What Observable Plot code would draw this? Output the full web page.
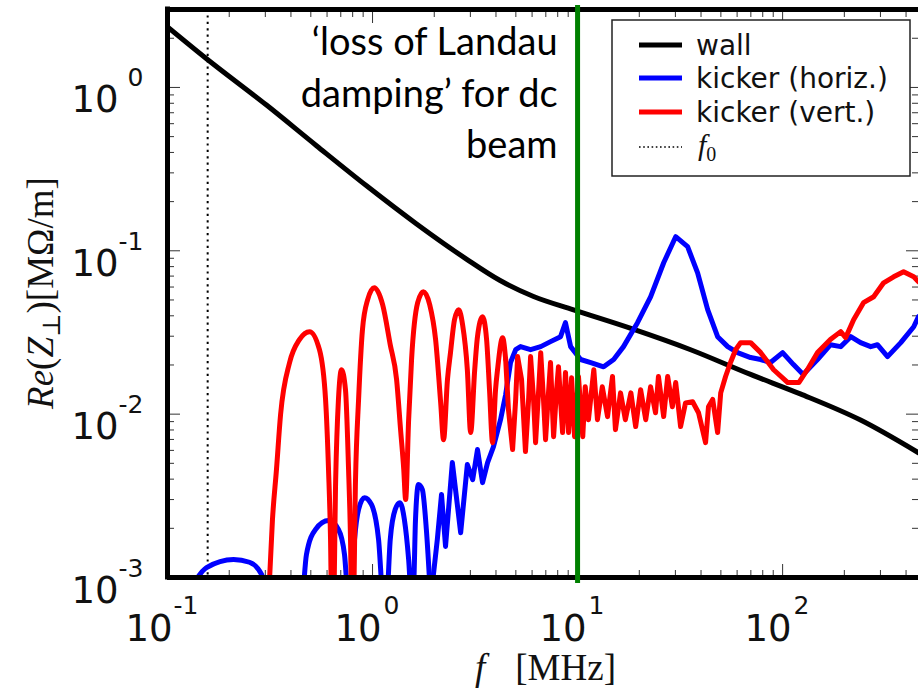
<!DOCTYPE html>
<html>
<head>
<meta charset="utf-8">
<script src="https://cdn.jsdelivr.net/npm/d3@7"></script>
<script src="https://cdn.jsdelivr.net/npm/@observablehq/plot@0.6"></script>
<style>
  html, body { margin: 0; padding: 0; background: #fff; }
  #chart svg { display: block; }
</style>
</head>
<body>
<div id="chart"></div>
<script>
// Transverse impedance Re(Z⊥) in MΩ/m against frequency f in MHz.
// Points below 1e-3 dip off the bottom of the axes and are clipped.

// resistive wall
const wall = [
  [0.1, 2.35], [0.155, 1.5], [0.304, 0.78], [0.533, 0.44], [0.935, 0.25],
  [1.64, 0.146], [2.87, 0.089], [4.17, 0.066], [6.1, 0.0525], [9.56, 0.0435],
  [18.2, 0.0335], [35.6, 0.0248], [69.8, 0.0175], [122, 0.0133], [240, 0.0092],
  [460, 0.0058]
];

// kicker, horizontal plane
const kickerH = [
  [0.129, 0.00085], [0.155, 0.00115], [0.21, 0.00129], [0.251, 0.00124], [0.288, 0.00104], [0.304, 0.00079],
  [0.451, 0.00073], [0.476, 0.00138], [0.527, 0.00197], [0.61, 0.00223], [0.682, 0.00197], [0.73, 0.00138], [0.764, 0.00073],
  [0.781, 0.00073], [0.817, 0.00171], [0.855, 0.00261], [0.914, 0.00308], [0.989, 0.00279], [1.07, 0.00171], [1.13, 0.00073],
  [1.17, 0.00073], [1.22, 0.00171], [1.29, 0.00261], [1.36, 0.00287], [1.43, 0.00226], [1.50, 0.00129], [1.55, 0.00073],
  [1.585, 0.00085], [1.62, 0.00226], [1.675, 0.00371], [1.75, 0.00345], [1.83, 0.00197], [1.92, 0.00073],
  [2.07, 0.00171], [2.17, 0.00322], [2.27, 0.00155], [2.45, 0.00505], [2.69, 0.00188], [2.90, 0.00491],
  [3.08, 0.00397], [3.25, 0.00607], [3.44, 0.00381], [3.64, 0.00505], [3.89, 0.00633], [4.21, 0.00925],
  [4.46, 0.0132], [4.71, 0.0207], [4.99, 0.0248], [5.27, 0.0259], [5.90, 0.0248], [6.61, 0.0259],
  [7.38, 0.0278], [8.26, 0.0298], [8.73, 0.0363], [9.25, 0.0259], [10.35, 0.0216], [11.6, 0.0207],
  [13.4, 0.0195], [15.0, 0.0216], [16.75, 0.0259], [19.6, 0.0363], [22.7, 0.0523], [26.3, 0.0845],
  [30.1, 0.122], [34.4, 0.106], [38.5, 0.0733], [43.1, 0.0436], [48.2, 0.0298], [54.0, 0.0259],
  [60.3, 0.0238], [69.8, 0.0222], [78.2, 0.0216], [87.3, 0.0207], [100, 0.0238], [113, 0.0201],
  [126, 0.0175], [148, 0.0216], [171, 0.0266], [192, 0.0259], [215, 0.0298], [240, 0.0274],
  [269, 0.0259], [290, 0.0266], [325, 0.0225], [377, 0.0274], [436, 0.0343], [460, 0.0395]
];

// kicker, vertical plane
const kickerV = [
  [0.311, 0.00073], [0.325, 0.00226], [0.340, 0.00458], [0.356, 0.00993], [0.394, 0.0207], [0.440, 0.0286],
  [0.493, 0.0320], [0.551, 0.0248], [0.590, 0.0123], [0.610, 0.00458], [0.624, 0.00171], [0.631, 0.00073],
  [0.646, 0.00073], [0.661, 0.00397], [0.682, 0.0123], [0.706, 0.0187], [0.738, 0.0141], [0.764, 0.00458],
  [0.781, 0.00171], [0.790, 0.00073],
  [0.807, 0.00073], [0.826, 0.00397], [0.855, 0.0123], [0.893, 0.0329], [0.946, 0.0501], [1.02, 0.0594],
  [1.12, 0.0468], [1.22, 0.0266], [1.31, 0.0163], [1.37, 0.00804], [1.42, 0.00458], [1.45, 0.00300],
  [1.50, 0.00925], [1.55, 0.0216], [1.66, 0.0481], [1.77, 0.0561], [1.90, 0.0468], [2.03, 0.0286],
  [2.15, 0.0117], [2.22, 0.00698], [2.32, 0.0163], [2.40, 0.0238], [2.51, 0.0378], [2.63, 0.0436],
  [2.75, 0.0352], [2.90, 0.0187], [3.01, 0.00771], [3.15, 0.0187], [3.25, 0.0298], [3.44, 0.0395],
  [3.60, 0.0286], [3.72, 0.0141], [3.85, 0.00669], [3.98, 0.0141], [4.07, 0.0187], [4.31, 0.0294],
  [4.46, 0.0216], [4.60, 0.0107], [4.82, 0.00607], [4.99, 0.0123], [5.10, 0.0225], [5.33, 0.0163],
  [5.57, 0.00590], [5.77, 0.0123], [5.90, 0.0225], [6.10, 0.0123], [6.24, 0.00669], [6.46, 0.0141],
  [6.61, 0.0238], [6.82, 0.0123], [6.98, 0.00698], [7.23, 0.0141], [7.38, 0.0207], [7.64, 0.00728],
  [7.90, 0.0141], [8.07, 0.0195], [8.45, 0.00771], [8.73, 0.0180], [9.04, 0.00771], [9.35, 0.0167],
  [9.67, 0.00728], [10.1, 0.0170], [10.6, 0.00728], [10.9, 0.0147], [11.3, 0.00925], [12.0, 0.0187],
  [12.5, 0.00925], [13.2, 0.0147], [14.0, 0.00966], [14.8, 0.0170], [15.3, 0.00804], [16.2, 0.0135],
  [17.1, 0.00925], [18.2, 0.0135], [19.2, 0.00839], [20.3, 0.0141], [21.5, 0.00925], [22.7, 0.0147],
  [24.0, 0.0102], [24.8, 0.0170], [26.3, 0.00966], [27.5, 0.0170], [29.0, 0.0111], [30.1, 0.0156],
  [31.8, 0.00839], [33.6, 0.0117], [36.4, 0.0119], [38.9, 0.0102], [42.1, 0.00669], [43.5, 0.0111],
  [45.6, 0.0123], [48.2, 0.00771], [49.9, 0.0135], [52.7, 0.0170], [55.7, 0.0207], [59.0, 0.0248],
  [62.4, 0.0274], [69.8, 0.0274], [78.2, 0.0238], [90.4, 0.0187], [106, 0.0156], [120, 0.0156],
  [132, 0.0187], [148, 0.0238], [171, 0.0286], [192, 0.0320], [203, 0.0294], [222, 0.0378],
  [248, 0.0481], [278, 0.0523], [311, 0.0637], [348, 0.0693], [389, 0.0745], [436, 0.0693], [460, 0.0646]
];

const f0 = 0.157;          // revolution frequency, MHz
const landauF = 10;        // onset of lost Landau damping for a dc beam, MHz
const xExponents = [-1, 0, 1, 2];
const yExponents = [-3, -2, -1, 0];
const seriesNames = ["wall", "kicker (horiz.)", "kicker (vert.)"];
const seriesColors = ["#000000", "#0000ff", "#ff0000"];
const annotation = "\u2018loss of Landau\ndamping\u2019 for dc\nbeam";

const xDomain = [0.1, 460];
const yDomain = [0.001, 3];

// the smooth resonance lobes are drawn with a monotone curve, the noisy
// higher-frequency parts point to point
const splitH = 1.92, splitV = 4.46;

const rows = pairs => pairs.map(([f, z]) => ({f, z}));
const below = (pairs, s) => rows(pairs.filter(([f]) => f <= s));
const above = (pairs, s) => rows(pairs.filter(([f]) => f >= s));

function minorTicks(exps, max) {
  const out = [];
  for (const e of exps) for (let m = 2; m <= 9; m++) {
    const v = m * 10 ** e;
    if (v <= max) out.push(v);
  }
  return out;
}
const xMajor = xExponents.map(e => 10 ** e);
const yMajor = yExponents.map(e => 10 ** e);
const xMinor = minorTicks(xExponents, xDomain[1]);
const yMinor = minorTicks(yExponents, yDomain[1]);

const tickFont = "DejaVu Sans, Bitstream Vera Sans, sans-serif";
const mathFont = "Liberation Serif, DejaVu Serif, serif";
const sup = e => (e < 0 ? "-" : "") + Math.abs(e);

// axis titles set in math style
function yTitle(index, scales, values, dims) {
  const cy = (dims.marginTop + dims.height - dims.marginBottom) / 2;
  const t = d3.create("svg:text")
    .attr("transform", `translate(53,${cy}) rotate(-90)`)
    .attr("text-anchor", "middle")
    .attr("font-family", mathFont)
    .attr("font-size", 37)
    .attr("fill", "#111");
  t.append("tspan").attr("font-style", "italic").text("Re");
  t.append("tspan").text("(");
  t.append("tspan").attr("font-style", "italic").text("Z");
  t.append("tspan").attr("font-size", 25).attr("dy", 7).text("\u22a5");
  t.append("tspan").attr("dy", -7).text(")[M\u03a9/m]");
  return t.node();
}

function xTitle(index, scales, values, dims) {
  const cx = dims.marginLeft + (dims.width - dims.marginLeft) / 2 + 3;
  const t = d3.create("svg:text")
    .attr("x", cx).attr("y", 680)
    .attr("text-anchor", "middle")
    .attr("font-family", mathFont)
    .attr("font-size", 37)
    .attr("fill", "#111");
  t.append("tspan").attr("font-style", "italic").text("f");
  t.append("tspan").attr("dx", 30).text("[MHz]");
  return t.node();
}

function legend(index, scales, values, dims) {
  const x0 = dims.width - 306, y0 = 20;
  const g = d3.create("svg:g").attr("text-anchor", "start");
  g.append("rect").attr("x", x0).attr("y", y0).attr("width", 298).attr("height", 156)
    .attr("fill", "white").attr("stroke", "#222").attr("stroke-width", 1.5);
  const rowY = [25, 58, 92, 127];
  seriesNames.forEach((name, i) => {
    g.append("line").attr("x1", x0 + 27).attr("x2", x0 + 70)
      .attr("y1", y0 + rowY[i]).attr("y2", y0 + rowY[i])
      .attr("stroke", seriesColors[i]).attr("stroke-width", 5);
    g.append("text").attr("x", x0 + 84).attr("y", y0 + rowY[i] + 10)
      .attr("font-family", tickFont).attr("font-size", 28).attr("fill", "#111").text(name);
  });
  g.append("line").attr("x1", x0 + 27).attr("x2", x0 + 70)
    .attr("y1", y0 + rowY[3]).attr("y2", y0 + rowY[3])
    .attr("stroke", "#000").attr("stroke-width", 1.6).attr("stroke-dasharray", "1.6,2.6");
  const t = g.append("text").attr("x", x0 + 86).attr("y", y0 + rowY[3] + 8)
    .attr("font-family", mathFont).attr("font-size", 30).attr("fill", "#111");
  t.append("tspan").attr("font-style", "italic").text("f");
  t.append("tspan").attr("font-size", 20).attr("dy", 6).text("0");
  return g.node();
}

const tickStyle = {stroke: "#333", strokeWidth: 1, label: null, tickFormat: () => ""};
const lineStyle = {x: "f", y: "z", strokeWidth: 5, clip: true};

const chart = Plot.plot({
  width: 918,
  height: 690,
  marginLeft: 167,
  marginRight: 0,
  marginTop: 9,
  marginBottom: 113,
  style: {background: "white"},
  x: {type: "log", domain: xDomain},
  y: {type: "log", domain: yDomain},
  marks: [
    // inward ticks on all four sides
    Plot.axisX(xMajor, {anchor: "bottom", tickSize: -13, ...tickStyle}),
    Plot.axisX(xMinor, {anchor: "bottom", tickSize: -7, ...tickStyle}),
    Plot.axisX(xMajor, {anchor: "top", tickSize: -13, ...tickStyle}),
    Plot.axisX(xMinor, {anchor: "top", tickSize: -7, ...tickStyle}),
    Plot.axisY(yMajor, {anchor: "left", tickSize: -13, ...tickStyle}),
    Plot.axisY(yMinor, {anchor: "left", tickSize: -7, ...tickStyle}),
    Plot.axisY(yMajor, {anchor: "right", tickSize: -13, ...tickStyle}),
    Plot.axisY(yMinor, {anchor: "right", tickSize: -7, ...tickStyle}),

    // tick labels as powers of ten
    Plot.text(xExponents.filter(e => e < 0), {x: e => 10 ** e, frameAnchor: "bottom", text: () => "10",
      textAnchor: "end", lineAnchor: "bottom", dx: 5, dy: 63, fontSize: 37, fontFamily: tickFont, fill: "#111"}),
    Plot.text(xExponents.filter(e => e >= 0), {x: e => 10 ** e, frameAnchor: "bottom", text: () => "10",
      textAnchor: "end", lineAnchor: "bottom", dx: 9, dy: 63, fontSize: 37, fontFamily: tickFont, fill: "#111"}),
    Plot.text(xExponents.filter(e => e < 0), {x: e => 10 ** e, frameAnchor: "bottom", text: sup,
      textAnchor: "start", lineAnchor: "bottom", dx: 6, dy: 36, fontSize: 25, fontFamily: tickFont, fill: "#111"}),
    Plot.text(xExponents.filter(e => e >= 0), {x: e => 10 ** e, frameAnchor: "bottom", text: sup,
      textAnchor: "start", lineAnchor: "bottom", dx: 11, dy: 36, fontSize: 25, fontFamily: tickFont, fill: "#111"}),
    Plot.text(yExponents, {y: e => 10 ** e, frameAnchor: "left", text: () => "10",
      textAnchor: "end", lineAnchor: "bottom", dx: -49, dy: 25, fontSize: 37, fontFamily: tickFont, fill: "#111"}),
    Plot.text(yExponents, {y: e => 10 ** e, frameAnchor: "left", text: sup,
      textAnchor: "end", lineAnchor: "bottom", dx: -24, dy: -1, fontSize: 25, fontFamily: tickFont, fill: "#111"}),

    yTitle,
    xTitle,

    // revolution frequency
    Plot.ruleX([f0], {stroke: "#000", strokeWidth: 2, strokeDasharray: "2.2,4.2"}),

    // impedance curves
    Plot.line(rows(wall), {...lineStyle, stroke: seriesColors[0], curve: "monotone-x"}),
    Plot.line(below(kickerH, splitH), {...lineStyle, stroke: seriesColors[1], curve: "monotone-x"}),
    Plot.line(above(kickerH, splitH), {...lineStyle, stroke: seriesColors[1], curve: "linear"}),
    Plot.line(below(kickerV, splitV), {...lineStyle, stroke: seriesColors[2], curve: "monotone-x"}),
    Plot.line(above(kickerV, splitV), {...lineStyle, stroke: seriesColors[2], curve: "linear"}),

    // frame: left, top and bottom spines
    Plot.ruleX([xDomain[0]], {stroke: "#000", strokeWidth: 5, insetTop: -2.5, insetBottom: -2.5}),
    Plot.ruleY([yDomain[0]], {stroke: "#000", strokeWidth: 5}),
    Plot.ruleY([yDomain[1]], {stroke: "#000", strokeWidth: 5}),

    legend,

    // Landau damping threshold
    Plot.ruleX([landauF], {stroke: "#008000", strokeWidth: 5, insetTop: -4, insetBottom: -6}),
    Plot.text([annotation], {x: landauF, frameAnchor: "top", text: d => d, textAnchor: "end", lineAnchor: "top",
      lineHeight: 1.355, dx: -20, dy: 9, fontSize: 38, fontFamily: "Lato, Open Sans, sans-serif", fill: "#000"})
  ]
});

document.getElementById("chart").append(chart);
</script>
</body>
</html>
